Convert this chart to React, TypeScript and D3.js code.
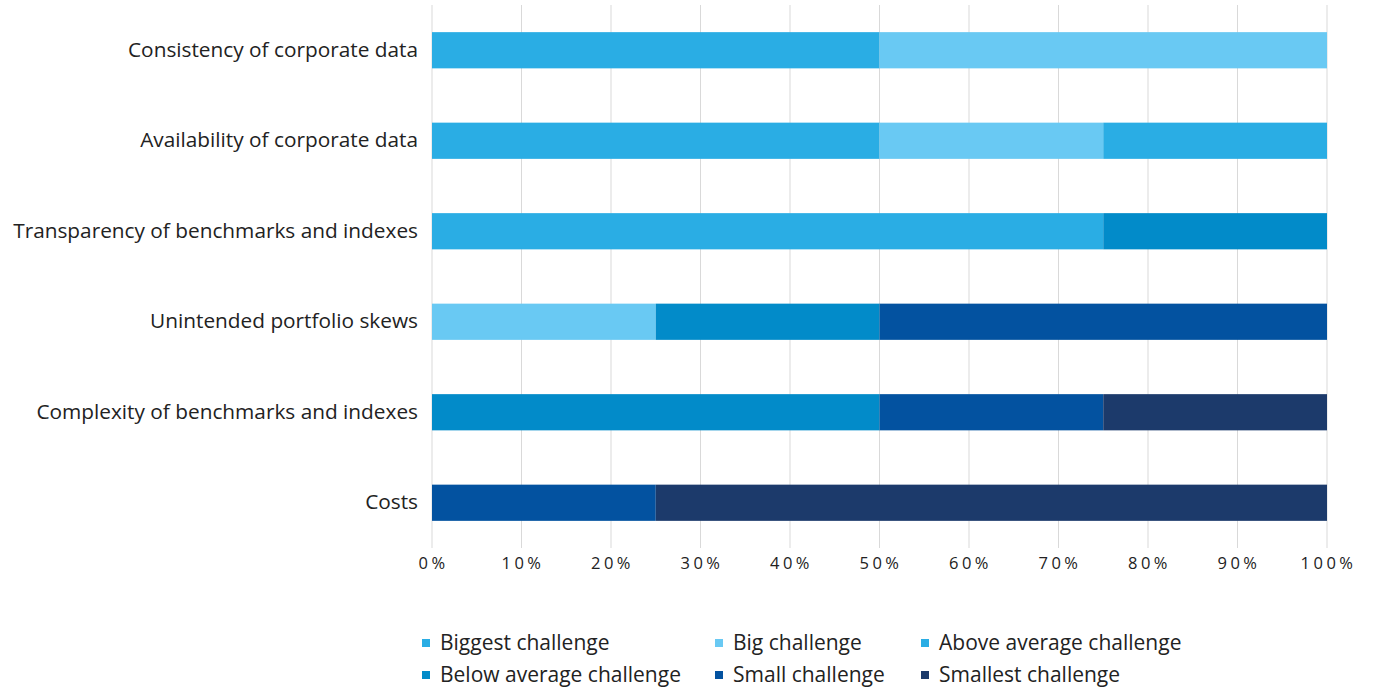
import React from "react";
import * as d3 from "d3";

const categories = [
  "Consistency of corporate data",
  "Availability of corporate data",
  "Transparency of benchmarks and indexes",
  "Unintended portfolio skews",
  "Complexity of benchmarks and indexes",
  "Costs",
];
const seriesNames = [
  "Biggest challenge",
  "Big challenge",
  "Above average challenge",
  "Below average challenge",
  "Small challenge",
  "Smallest challenge",
];
const biggest = [50, 50, 0, 0, 0, 0];
const big = [50, 25, 0, 25, 0, 0];
const aboveAverage = [0, 25, 75, 0, 0, 0];
const belowAverage = [0, 0, 25, 25, 50, 0];
const small = [0, 0, 0, 50, 25, 25];
const smallest = [0, 0, 0, 0, 25, 75];
const colors = ["#2AADE4", "#69C9F3", "#2AADE4", "#028BC9", "#0352A0", "#1C3A6B"];
const xTicks = [0, 10, 20, 30, 40, 50, 60, 70, 80, 90, 100];

export default function App() {
  const W = 1375, H = 691;
  const left = 432, right = 1327, top = 5, bottom = 548;
  const x = d3.scaleLinear().domain([0, 100]).range([left, right]);
  const y = d3.scaleBand<string>().domain(categories).range([top, bottom]).paddingInner(0.6).paddingOuter(0.3);
  const rows = categories.map((c, i) => {
    const o: any = { cat: c };
    seriesNames.forEach((s, j) => (o[s] = [biggest, big, aboveAverage, belowAverage, small, smallest][j][i]));
    return o;
  });
  const stacked = d3.stack<any>().keys(seriesNames)(rows);
  const font = "'Open Sans', sans-serif";
  const legendX = [426, 719, 925];
  const legendY = [643, 675];
  return (
    <svg width={W} height={H} style={{ position: "absolute", left: 0, top: 0, background: "#fff" }}>
      {xTicks.map((t) => (
        <line key={t} x1={x(t)} x2={x(t)} y1={top} y2={bottom} stroke="#d9d9d9" strokeWidth={1} />
      ))}
      {stacked.map((layer, j) => (
        <g key={layer.key} fill={colors[j]}>
          {layer.map((d, i) =>
            d[1] - d[0] > 0 ? (
              <rect key={i} x={x(d[0])} width={x(d[1]) - x(d[0])} y={y(categories[i])!} height={y.bandwidth()} />
            ) : null
          )}
        </g>
      ))}
      {categories.map((c) => (
        <text key={c} x={418} y={y(c)! + y.bandwidth() / 2 - 1} dy="0.35em" textAnchor="end" fontFamily={font} fontSize={20.8} fill="#222">
          {c}
        </text>
      ))}
      {xTicks.map((t) => (
        <text key={t} x={x(t) + 1.5} y={563} dy="0.35em" textAnchor="middle" fontFamily={font} fontSize={16.5} letterSpacing={3.5} fill="#222">
          {t}%
        </text>
      ))}
      {seriesNames.map((s, j) => {
        const cx = legendX[j % 3], cy = legendY[Math.floor(j / 3)];
        return (
          <g key={s}>
            <rect x={cx - 4} y={cy - 4} width={8} height={8} fill={colors[j]} />
            <text x={cx + 14} y={cy} dy="0.35em" fontFamily={font} fontSize={21} fill="#222">
              {s}
            </text>
          </g>
        );
      })}
    </svg>
  );
}
